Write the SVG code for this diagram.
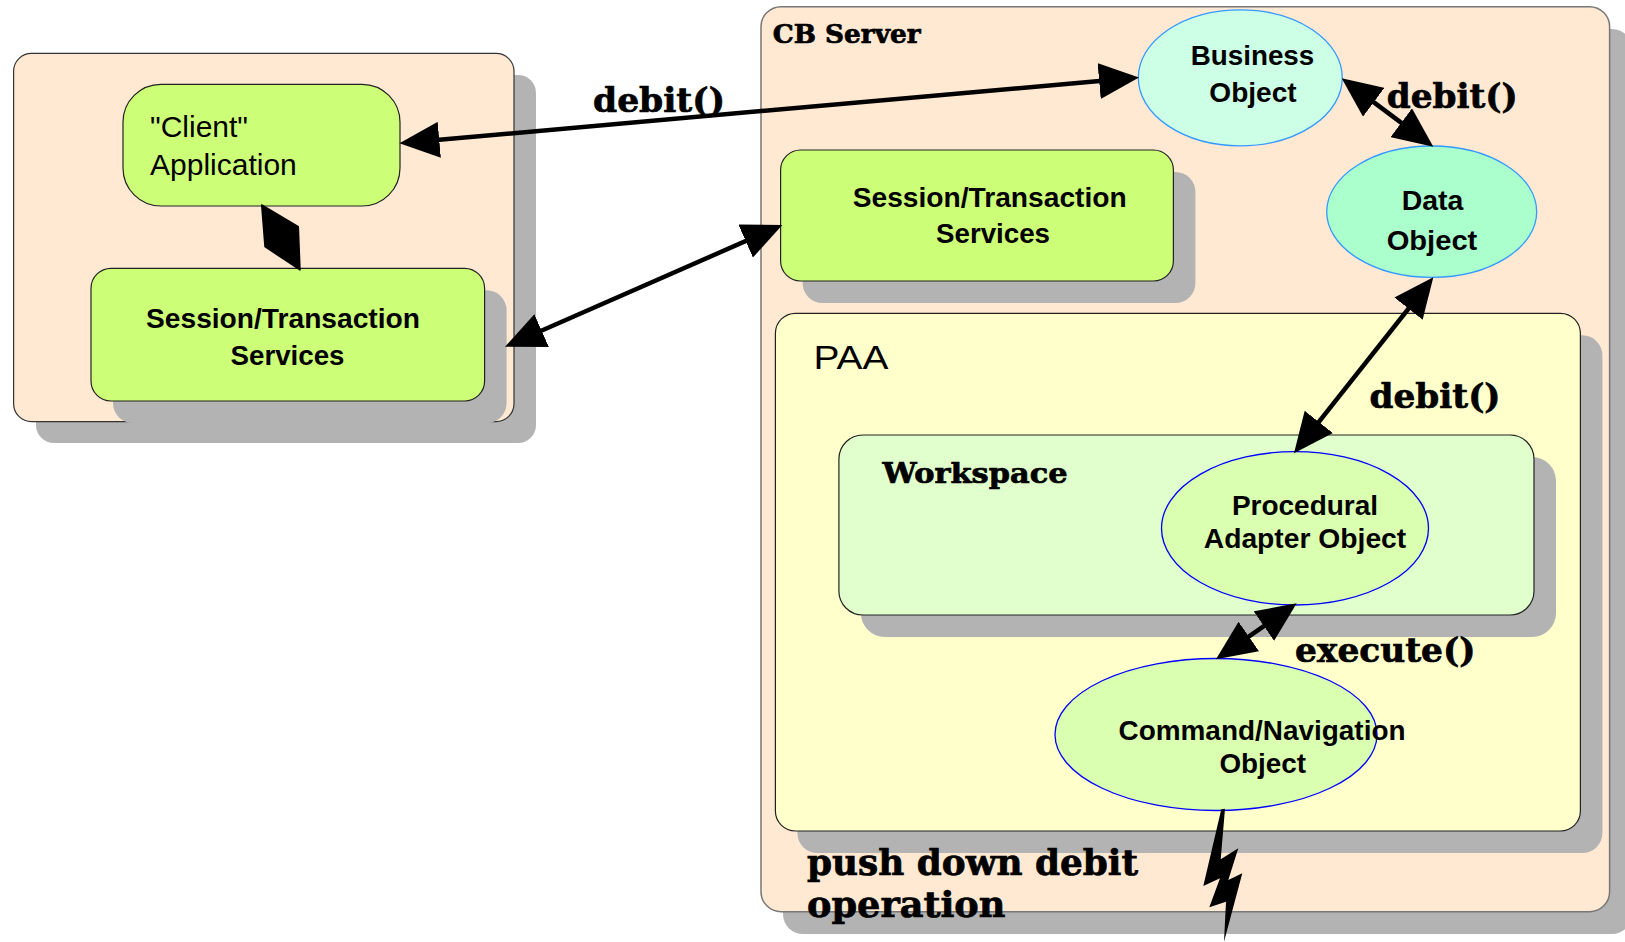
<svg xmlns="http://www.w3.org/2000/svg" width="1625" height="942" viewBox="0 0 1625 942">
<style>
.shadow{fill:#b3b3b3;stroke:none}
.outer{fill:#ffe9d2;stroke:#333;stroke-width:1.2}
.lime{fill:#ccff77;stroke:#222;stroke-width:1.2}
.paa{fill:#ffffcc;stroke:#222;stroke-width:1.2}
.ws{fill:#e0ffcc;stroke:#222;stroke-width:1.2}
.bo{fill:#ccffe5;stroke:#3399ff;stroke-width:1.3}
.do{fill:#aaffcc;stroke:#3399ff;stroke-width:1.3}
.po{fill:#daffb0;stroke:#0000ff;stroke-width:1.3}
.sans{font-family:"Liberation Sans",Arial,sans-serif;fill:#000}
.lbl{font-family:"Liberation Sans",Arial,sans-serif;font-weight:bold;font-size:27px;fill:#000}
.ser{font-family:"DejaVu Serif","Liberation Serif",serif;font-weight:bold;fill:#000;stroke:#000;stroke-width:0.7}
.conn{stroke:#000;stroke-width:4.5;fill:none;marker-start:url(#ah);marker-end:url(#ah)}
</style>
<defs>
<marker id="ah" markerUnits="userSpaceOnUse" markerWidth="40" markerHeight="36" refX="34" refY="18" orient="auto-start-reverse" viewBox="0 0 40 36">
<path d="M0,0 L40,18 L0,36 z" fill="#000"/>
</marker>
</defs>
<rect width="1625" height="942" fill="#fff"/>

<g id="client-container">
<rect class="shadow" x="36" y="75" width="500" height="368" rx="18"/>
<rect class="outer" x="13.6" y="53.3" width="500.4" height="368.4" rx="18"/>
</g>
<g id="client-app">
<rect class="lime" x="123" y="84.3" width="277" height="121.7" rx="38"/>
<text class="sans" x="150" y="136.7" font-size="30">"Client"</text>
<text class="sans" x="150" y="175" font-size="30">Application</text>
</g>
<g id="client-session">
<rect class="shadow" x="113" y="290.3" width="393.6" height="132.7" rx="20"/>
<rect class="lime" x="91" y="268.3" width="393.6" height="132.7" rx="20"/>
<text class="lbl" x="283" y="328.3" text-anchor="middle" textLength="274" lengthAdjust="spacingAndGlyphs">Session/Transaction</text>
<text class="lbl" x="287.5" y="365" text-anchor="middle" textLength="114" lengthAdjust="spacingAndGlyphs">Services</text>
</g>

<g id="cb-server">
<rect class="shadow" x="783" y="29" width="849" height="905" rx="20"/>
<rect class="outer" x="761" y="6.7" width="848.6" height="905" rx="20" style="stroke:#777;stroke-width:1.5"/>
<text class="ser" x="772.7" y="43.3" font-size="26" textLength="148" lengthAdjust="spacingAndGlyphs">CB Server</text>
</g>
<g id="server-session">
<rect class="shadow" x="802.6" y="172" width="392.8" height="131" rx="20"/>
<rect class="lime" x="780.6" y="150" width="392.8" height="131" rx="20"/>
<text class="lbl" x="989.7" y="206.7" text-anchor="middle" textLength="274" lengthAdjust="spacingAndGlyphs">Session/Transaction</text>
<text class="lbl" x="993" y="243.3" text-anchor="middle" textLength="114" lengthAdjust="spacingAndGlyphs">Services</text>
</g>
<g id="paa">
<rect class="shadow" x="797.4" y="335.3" width="805" height="517.7" rx="20"/>
<rect class="paa" x="775.4" y="313.3" width="805" height="517.7" rx="20"/>
<text class="sans" x="813.5" y="369" font-size="34" textLength="75" lengthAdjust="spacingAndGlyphs">PAA</text>
</g>
<g id="workspace">
<rect class="shadow" x="860.9" y="457" width="695.1" height="180" rx="24"/>
<rect class="ws" x="838.9" y="435" width="695.1" height="180" rx="24"/>
<text class="ser" x="882.5" y="483.3" font-size="28" textLength="185" lengthAdjust="spacingAndGlyphs">Workspace</text>
</g>
<g id="business-object">
<ellipse class="bo" cx="1240.3" cy="77.8" rx="102" ry="68"/>
<text class="lbl" x="1252.5" y="65" text-anchor="middle" textLength="123.6" lengthAdjust="spacingAndGlyphs">Business</text>
<text class="lbl" x="1253" y="101.7" text-anchor="middle" textLength="87.3" lengthAdjust="spacingAndGlyphs">Object</text>
</g>
<g id="data-object">
<ellipse class="do" cx="1431.7" cy="211.7" rx="105" ry="65.7"/>
<text class="lbl" x="1432.5" y="210" text-anchor="middle" textLength="61.7" lengthAdjust="spacingAndGlyphs">Data</text>
<text class="lbl" x="1432" y="250" text-anchor="middle" textLength="90.7" lengthAdjust="spacingAndGlyphs">Object</text>
</g>
<g id="procedural-adapter">
<ellipse class="po" cx="1295" cy="528.3" rx="133.5" ry="76.7"/>
<text class="lbl" x="1305" y="515" text-anchor="middle" textLength="146.2" lengthAdjust="spacingAndGlyphs">Procedural</text>
<text class="lbl" x="1305" y="548.3" text-anchor="middle" textLength="202.5" lengthAdjust="spacingAndGlyphs">Adapter Object</text>
</g>
<g id="command-navigation">
<ellipse class="po" cx="1216" cy="734.5" rx="161" ry="76"/>
<text class="lbl" x="1262" y="740" text-anchor="middle" textLength="287" lengthAdjust="spacingAndGlyphs">Command/Navigation</text>
<text class="lbl" x="1262.7" y="773.3" text-anchor="middle" textLength="86.6" lengthAdjust="spacingAndGlyphs">Object</text>
</g>

<g id="connectors">
<line class="conn" x1="405.4" y1="142.8" x2="1133" y2="78"/>
<line class="conn" x1="510.5" y1="344.3" x2="776.8" y2="227.4"/>
<line class="conn" x1="1346.5" y1="81.9" x2="1428.5" y2="143.1"/>
<line class="conn" x1="1429.6" y1="282" x2="1297.7" y2="448.6"/>
<line class="conn" x1="1291.8" y1="606.7" x2="1220.9" y2="655.9"/>
<polygon points="261.7,205 298.3,226.7 300,270 265,246.7" fill="#000" stroke="#000" stroke-width="1.5" stroke-linejoin="round"/>
<polygon points="1221.3,809.3 1225,808.7 1220.7,859.3 1238.3,848.3 1228.3,880 1242.3,873.3 1224,941.7 1226,901.7 1209.3,907.3 1220,878.3 1203.3,886" fill="#000"/>
</g>

<g id="labels">
<text class="ser" x="593" y="112" font-size="34" textLength="132" lengthAdjust="spacingAndGlyphs">debit()</text>
<text class="ser" x="1386.7" y="108" font-size="34" textLength="131" lengthAdjust="spacingAndGlyphs">debit()</text>
<text class="ser" x="1369.6" y="408.3" font-size="34" textLength="131" lengthAdjust="spacingAndGlyphs">debit()</text>
<text class="ser" x="1295" y="661.7" font-size="34" textLength="180.5" lengthAdjust="spacingAndGlyphs">execute()</text>
<text class="ser" x="807" y="875" font-size="35" textLength="331" lengthAdjust="spacingAndGlyphs">push down debit</text>
<text class="ser" x="807" y="916.7" font-size="35" textLength="198.5" lengthAdjust="spacingAndGlyphs">operation</text>
</g>
</svg>
